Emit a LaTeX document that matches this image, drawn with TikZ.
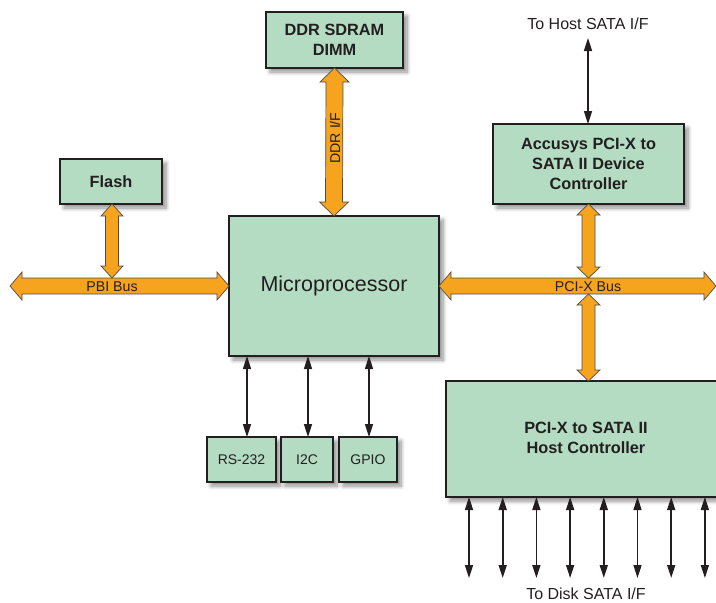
\documentclass[tikz,border=0pt]{standalone}
\usepackage{fontspec}
\setmainfont{Liberation Sans}
\usetikzlibrary{arrows.meta,calc,shadows.blur}

\definecolor{boxgreen}{HTML}{B3DCC2}
\definecolor{busorange}{HTML}{F6A31E}
\definecolor{ink}{HTML}{231F20}

% fat double-headed bus arrows: endpoints, half shaft width, half head width, head length
\newcommand\busV[5]{%
  \draw[busarrow] (#1) -- ($(#1)+(#4,#5)$) -- ($(#1)+(#3,#5)$) -- ($(#2)+(#3,-#5)$)
    -- ($(#2)+(#4,-#5)$) -- (#2) -- ($(#2)+(-#4,-#5)$) -- ($(#2)+(-#3,-#5)$)
    -- ($(#1)+(-#3,#5)$) -- ($(#1)+(-#4,#5)$) -- cycle;}
\newcommand\busH[5]{%
  \draw[busarrow] (#1) -- ($(#1)+(#5,-#4)$) -- ($(#1)+(#5,-#3)$) -- ($(#2)+(-#5,-#3)$)
    -- ($(#2)+(-#5,-#4)$) -- (#2) -- ($(#2)+(-#5,#4)$) -- ($(#2)+(-#5,#3)$)
    -- ($(#1)+(#5,#3)$) -- ($(#1)+(#5,#4)$) -- cycle;}

\begin{document}
\begin{tikzpicture}[x=1pt,y=-1pt,
  block/.style={draw=ink, line width=1.6pt, fill=boxgreen, text=ink, align=center,
    inner sep=0pt, outer sep=0pt,
    blur shadow={shadow xshift=4pt, shadow yshift=-4pt, shadow blur steps=8, shadow blur radius=4pt, shadow opacity=45}},
  bold/.style={font=\fontsize{16.3}{20}\selectfont\bfseries},
  plain/.style={font=\fontsize{14}{17}\selectfont},
  busarrow/.style={draw=ink!80, line width=0.7pt, fill=busorange, line join=miter},
  buslabel/.style={text=ink, font=\fontsize{14.2}{16}\selectfont, inner sep=0pt},
  sig/.style={draw=ink, line width=1.6pt, {Triangle[length=13pt,width=8pt]}-{Triangle[length=13pt,width=8pt]}},
  lbl/.style={text=ink, font=\fontsize{16}{18}\selectfont, inner sep=0pt}]

\useasboundingbox (0,0) rectangle (716,603);

% blocks
\node[block, bold, minimum width=137pt, minimum height=56pt] (ddr) at (334.5,40) {DDR SDRAM\\DIMM};
\node[block, bold, minimum width=102pt, minimum height=45pt] (flash) at (111,181.5) {Flash};
\node[block, minimum width=210pt, minimum height=140pt, font=\fontsize{21.5}{24}\selectfont] (cpu) at (334,286) {\raisebox{2pt}{Microprocessor}};
\node[block, bold, minimum width=191pt, minimum height=80pt] (acc) at (588.5,164) {Accusys PCI-X to\\SATA II Device\\Controller};
\node[block, bold, minimum width=280pt, minimum height=116pt] (host) at (586,439) {\raisebox{3pt}{\begin{tabular}{@{}c@{}}PCI-X to SATA II\\Host Controller\end{tabular}}};
\node[block, plain, minimum width=69pt, minimum height=45pt] (rs) at (241.5,459.5) {RS-232};
\node[block, plain, minimum width=52pt, minimum height=45pt] (iic) at (307,459.5) {I2C};
\node[block, plain, minimum width=58pt, minimum height=45pt] (gpio) at (368,459.5) {GPIO};

% external labels
\node[lbl] (hostif) at (588,24) {To Host SATA I/F};
\node[lbl] (diskif) at (586,594) {To Disk SATA I/F};

% free ends of connectors
\coordinate (pbiL) at (10,286);
\coordinate (pciR) at (716,286);
\coordinate (flashBus) at (112,278);
\coordinate (accBus) at (588.5,278);
\coordinate (hostBus) at (588.5,294);
\coordinate (hostEnd) at (588,38);
\coordinate (diskEnd) at (0,578);
\coordinate (s1) at (247,0);
\coordinate (s2) at (308,0);
\coordinate (s3) at (369,0);

% orange buses
\busV{ddr.south}{cpu.north}{8.5}{14.5}{14}
\busH{pbiL}{cpu.west}{8}{14}{12}
\busH{cpu.east}{pciR}{8}{14}{12}
\busV{flash.south -| flashBus}{flashBus}{6.5}{11}{12}
\busV{acc.south}{accBus}{6.5}{11.5}{11}
\busV{hostBus}{host.north -| hostBus}{6.5}{11.5}{11}

\node[buslabel] at (112,286.5) {PBI Bus};
\node[buslabel] at (588,286.5) {PCI-X Bus};
\node[buslabel, rotate=90] at (335,138) {DDR I/F};

% signal lines
\draw[sig] (hostEnd) -- (acc.north -| hostEnd);
\draw[sig] (cpu.south -| s1) -- (rs.north -| s1);
\draw[sig] (cpu.south -| s2) -- (iic.north -| s2);
\draw[sig] (cpu.south -| s3) -- (gpio.north -| s3);
\foreach \i in {0,...,7} {
  \coordinate (d\i) at ({469+33.7*\i},0);
  \draw[sig] (host.south -| d\i) -- (diskEnd -| d\i);
}
\end{tikzpicture}
\end{document}
